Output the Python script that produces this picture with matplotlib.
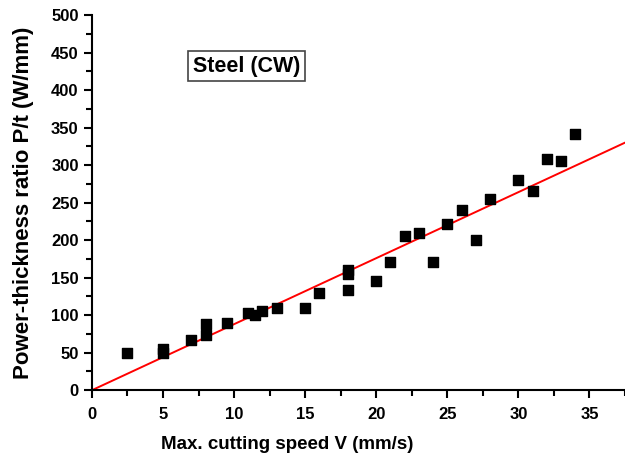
import numpy as np
import matplotlib.pyplot as plt
from matplotlib.ticker import MultipleLocator

plt.rcParams['font.family'] = ['Liberation Sans', 'DejaVu Sans']
plt.rcParams['font.weight'] = 'bold'

# measured points: max cutting speed (mm/s) vs power-thickness ratio (W/mm)
speed = [2.5, 5, 5, 7, 8, 8, 9.5, 11, 11.5, 12, 13, 15, 16, 18, 18, 18,
         20, 21, 22, 23, 24, 25, 26, 27, 28, 30, 31, 32, 33, 34]
ratio = [50, 55, 50, 67, 88, 73, 89, 103, 100, 105, 110, 110, 129, 160, 155, 133,
         145, 171, 205, 209, 171, 221, 240, 200, 255, 280, 265, 308, 305, 341]

# linear fit through origin
fit_slope = 8.8
fit_x = [0, 37.5]

fig = plt.figure(figsize=(6.25, 4.58), dpi=100)
ax = fig.add_axes([0.147, 0.148, 0.853, 0.819])

ax.plot(fit_x, [fit_slope * v for v in fit_x], color='red', lw=1.4, zorder=2)
ax.scatter(speed, ratio, marker='s', s=45, color='black', zorder=3)

ax.set_xlim(0, 37.5)
ax.set_ylim(0, 500)
ax.xaxis.set_major_locator(MultipleLocator(5))
ax.xaxis.set_minor_locator(MultipleLocator(2.5))
ax.yaxis.set_major_locator(MultipleLocator(50))
ax.yaxis.set_minor_locator(MultipleLocator(25))

for side in ['top', 'right']:
    ax.spines[side].set_visible(False)
for side in ['left', 'bottom']:
    ax.spines[side].set_linewidth(1.5)

ax.tick_params(which='major', direction='out', length=6, width=1.5, labelsize=12)
ax.tick_params(which='minor', direction='out', length=4, width=1.5)
ax.tick_params(axis='x', which='major', pad=6)

ax.set_xlabel('Max. cutting speed V (mm/s)', fontsize=13.5, fontweight='bold')
ax.xaxis.set_label_coords(0.366, -0.122)
ax.set_ylabel('Power-thickness ratio P/t (W/mm)', fontsize=16, fontweight='bold', labelpad=12)

ax.text(10.9, 432, 'Steel (CW)', fontsize=15.5, fontweight='bold', ha='center', va='center',
        bbox=dict(boxstyle='square,pad=0.22', fc='white', ec='#444444', lw=1.2))

plt.savefig('out.png', dpi=100)
